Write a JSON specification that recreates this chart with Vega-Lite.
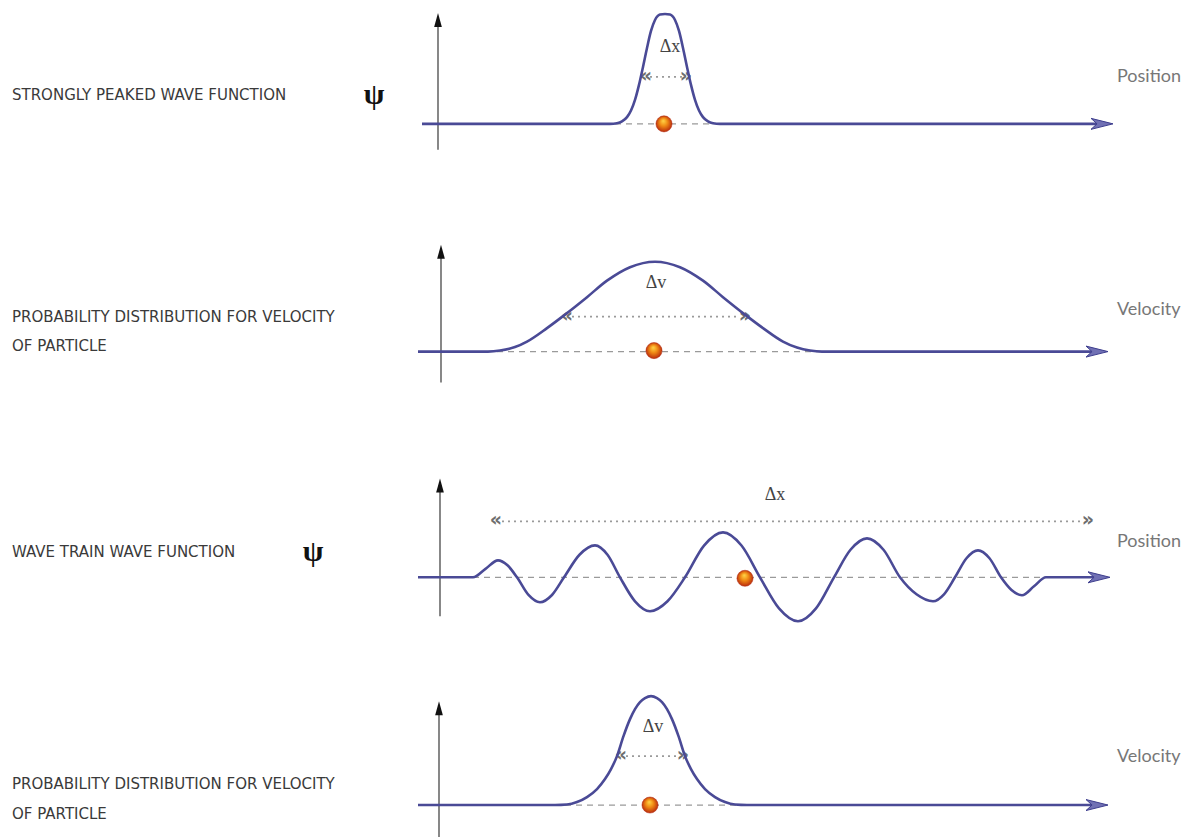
{
  "$schema": "https://vega.github.io/schema/vega-lite/v6.json",
  "width": 1192,
  "height": 838,
  "autosize": {"type": "fit", "contains": "padding"},
  "padding": 0,
  "background": "white",
  "config": {"view": {"stroke": null}},
  "datasets": {
    "curves": [
      {"panel": 1, "x": 422, "y": 124}, {"panel": 1, "x": 600, "y": 124}, {"panel": 1, "x": 610, "y": 124},
      {"panel": 1, "x": 617, "y": 123.3}, {"panel": 1, "x": 622, "y": 121.5}, {"panel": 1, "x": 627, "y": 117.3},
      {"panel": 1, "x": 631, "y": 110.7}, {"panel": 1, "x": 635, "y": 100}, {"panel": 1, "x": 639, "y": 85},
      {"panel": 1, "x": 643, "y": 67}, {"panel": 1, "x": 647, "y": 48}, {"panel": 1, "x": 651, "y": 31},
      {"panel": 1, "x": 655, "y": 20}, {"panel": 1, "x": 660, "y": 14.6}, {"panel": 1, "x": 665, "y": 14},
      {"panel": 1, "x": 670, "y": 14.6}, {"panel": 1, "x": 675, "y": 20}, {"panel": 1, "x": 679, "y": 31},
      {"panel": 1, "x": 683, "y": 48}, {"panel": 1, "x": 687, "y": 67}, {"panel": 1, "x": 691, "y": 85},
      {"panel": 1, "x": 695, "y": 100}, {"panel": 1, "x": 699, "y": 110.7}, {"panel": 1, "x": 703, "y": 117.3},
      {"panel": 1, "x": 708, "y": 121.5}, {"panel": 1, "x": 713, "y": 123.3}, {"panel": 1, "x": 720, "y": 124},
      {"panel": 1, "x": 730, "y": 124}, {"panel": 1, "x": 1100, "y": 124},

      {"panel": 2, "x": 418, "y": 352}, {"panel": 2, "x": 488, "y": 352}, {"panel": 2, "x": 500, "y": 351},
      {"panel": 2, "x": 515, "y": 347.5}, {"panel": 2, "x": 527, "y": 342}, {"panel": 2, "x": 547, "y": 328.5},
      {"panel": 2, "x": 565, "y": 315}, {"panel": 2, "x": 587, "y": 297.5}, {"panel": 2, "x": 607, "y": 281},
      {"panel": 2, "x": 630, "y": 267.5}, {"panel": 2, "x": 655, "y": 262}, {"panel": 2, "x": 680, "y": 267.5},
      {"panel": 2, "x": 703, "y": 281}, {"panel": 2, "x": 723, "y": 297.5}, {"panel": 2, "x": 745, "y": 315},
      {"panel": 2, "x": 763, "y": 328.5}, {"panel": 2, "x": 783, "y": 342}, {"panel": 2, "x": 797, "y": 348},
      {"panel": 2, "x": 810, "y": 351}, {"panel": 2, "x": 822, "y": 352}, {"panel": 2, "x": 1096, "y": 352},

      {"panel": 3, "x": 418, "y": 578}, {"panel": 3, "x": 473, "y": 578}, {"panel": 3, "x": 485.5, "y": 569.5},
      {"panel": 3, "x": 498, "y": 561}, {"panel": 3, "x": 507.5, "y": 566}, {"panel": 3, "x": 517, "y": 578},
      {"panel": 3, "x": 528.5, "y": 595.7}, {"panel": 3, "x": 540, "y": 603}, {"panel": 3, "x": 552, "y": 595.7},
      {"panel": 3, "x": 564, "y": 578}, {"panel": 3, "x": 579.5, "y": 555.4}, {"panel": 3, "x": 595, "y": 546},
      {"panel": 3, "x": 607.5, "y": 555.4}, {"panel": 3, "x": 620, "y": 578}, {"panel": 3, "x": 635, "y": 602},
      {"panel": 3, "x": 650, "y": 612}, {"panel": 3, "x": 667.5, "y": 602}, {"panel": 3, "x": 685, "y": 578},
      {"panel": 3, "x": 704, "y": 546.2}, {"panel": 3, "x": 723, "y": 533}, {"panel": 3, "x": 741.5, "y": 546.2},
      {"panel": 3, "x": 760, "y": 578}, {"panel": 3, "x": 779, "y": 609.1}, {"panel": 3, "x": 798, "y": 622},
      {"panel": 3, "x": 816, "y": 609.1}, {"panel": 3, "x": 834, "y": 578}, {"panel": 3, "x": 850.5, "y": 550.4},
      {"panel": 3, "x": 867, "y": 539}, {"panel": 3, "x": 883.5, "y": 550.4}, {"panel": 3, "x": 900, "y": 578},
      {"panel": 3, "x": 916.5, "y": 595}, {"panel": 3, "x": 933, "y": 602}, {"panel": 3, "x": 944, "y": 595},
      {"panel": 3, "x": 955, "y": 578}, {"panel": 3, "x": 966.5, "y": 558.9}, {"panel": 3, "x": 978, "y": 551},
      {"panel": 3, "x": 989.5, "y": 558.9}, {"panel": 3, "x": 1001, "y": 578}, {"panel": 3, "x": 1011.5, "y": 590.7},
      {"panel": 3, "x": 1022, "y": 596}, {"panel": 3, "x": 1034, "y": 587}, {"panel": 3, "x": 1046, "y": 578},
      {"panel": 3, "x": 1098, "y": 578},

      {"panel": 4, "x": 418, "y": 806}, {"panel": 4, "x": 545, "y": 806}, {"panel": 4, "x": 555, "y": 806},
      {"panel": 4, "x": 567, "y": 805.5}, {"panel": 4, "x": 577, "y": 803}, {"panel": 4, "x": 587, "y": 798},
      {"panel": 4, "x": 597, "y": 790}, {"panel": 4, "x": 605, "y": 780}, {"panel": 4, "x": 611, "y": 770},
      {"panel": 4, "x": 617, "y": 757}, {"panel": 4, "x": 623.5, "y": 737}, {"panel": 4, "x": 630, "y": 720},
      {"panel": 4, "x": 635, "y": 710}, {"panel": 4, "x": 640, "y": 703}, {"panel": 4, "x": 645, "y": 699},
      {"panel": 4, "x": 651, "y": 697}, {"panel": 4, "x": 657, "y": 699}, {"panel": 4, "x": 662, "y": 703},
      {"panel": 4, "x": 667, "y": 710}, {"panel": 4, "x": 672, "y": 720}, {"panel": 4, "x": 678.5, "y": 737},
      {"panel": 4, "x": 685, "y": 757}, {"panel": 4, "x": 691, "y": 770}, {"panel": 4, "x": 697, "y": 780},
      {"panel": 4, "x": 705, "y": 790}, {"panel": 4, "x": 715, "y": 798}, {"panel": 4, "x": 725, "y": 803},
      {"panel": 4, "x": 735, "y": 805.5}, {"panel": 4, "x": 747, "y": 806}, {"panel": 4, "x": 760, "y": 806},
      {"panel": 4, "x": 1096, "y": 806}
    ],
    "dashes": [
      {"panel": 1, "x": 615, "y": 124}, {"panel": 1, "x": 714, "y": 124},
      {"panel": 2, "x": 497, "y": 352}, {"panel": 2, "x": 822, "y": 352},
      {"panel": 3, "x": 473, "y": 578}, {"panel": 3, "x": 1047, "y": 578},
      {"panel": 4, "x": 565, "y": 806}, {"panel": 4, "x": 737, "y": 806}
    ],
    "spans": [
      {"panel": 1, "x": 650, "y": 77}, {"panel": 1, "x": 682, "y": 77},
      {"panel": 2, "x": 572, "y": 317}, {"panel": 2, "x": 740, "y": 317},
      {"panel": 3, "x": 502, "y": 522}, {"panel": 3, "x": 1082, "y": 522},
      {"panel": 4, "x": 626, "y": 757}, {"panel": 4, "x": 677, "y": 757}
    ],
    "chevrons": [
      {"x": 646, "y": 77, "t": "«"}, {"x": 686, "y": 77, "t": "»"},
      {"x": 567, "y": 317, "t": "«"}, {"x": 745, "y": 317, "t": "»"},
      {"x": 496, "y": 522, "t": "«"}, {"x": 1088, "y": 522, "t": "»"},
      {"x": 621, "y": 757, "t": "«"}, {"x": 683, "y": 757, "t": "»"}
    ],
    "axes": [
      {"x": 438, "y": 150, "y2": 24},
      {"x": 441, "y": 383, "y2": 255},
      {"x": 440, "y": 617, "y2": 490},
      {"x": 439, "y": 838, "y2": 712}
    ],
    "axisTips": [
      {"x": 438, "y": 20},
      {"x": 441, "y": 252},
      {"x": 440, "y": 486},
      {"x": 439, "y": 709}
    ],
    "arrowTips": [
      {"x": 1102, "y": 124},
      {"x": 1097, "y": 352},
      {"x": 1099, "y": 578},
      {"x": 1097, "y": 806}
    ],
    "particles": [
      {"x": 664, "y": 124},
      {"x": 654, "y": 351},
      {"x": 745, "y": 579},
      {"x": 650, "y": 806}
    ],
    "deltas": [
      {"x": 670, "y": 47, "t": "Δx"},
      {"x": 656, "y": 283, "t": "Δv"},
      {"x": 775, "y": 496, "t": "Δx"},
      {"x": 653, "y": 728, "t": "Δv"}
    ],
    "quantities": [
      {"x": 1117, "y": 77, "t": "Position"},
      {"x": 1117, "y": 310, "t": "Velocity"},
      {"x": 1117, "y": 543, "t": "Position"},
      {"x": 1117, "y": 758, "t": "Velocity"}
    ],
    "captions": [
      {"x": 12, "y": 95, "t": "STRONGLY PEAKED WAVE FUNCTION"},
      {"x": 12, "y": 317, "t": "PROBABILITY DISTRIBUTION FOR VELOCITY"},
      {"x": 12, "y": 346, "t": "OF PARTICLE"},
      {"x": 12, "y": 553, "t": "WAVE TRAIN WAVE FUNCTION"},
      {"x": 12, "y": 785, "t": "PROBABILITY DISTRIBUTION FOR VELOCITY"},
      {"x": 12, "y": 815, "t": "OF PARTICLE"}
    ],
    "psis": [
      {"x": 374, "y": 95, "t": "ψ"},
      {"x": 313, "y": 553, "t": "ψ"}
    ]
  },
  "encoding": {
    "x": {"field": "x", "type": "quantitative", "scale": {"domain": [0, 1192], "nice": false, "zero": false}, "axis": null},
    "y": {"field": "y", "type": "quantitative", "scale": {"domain": [0, 838], "nice": false, "zero": false, "reverse": true}, "axis": null}
  },
  "layer": [
    {
      "data": {"name": "dashes"},
      "mark": {"type": "line", "color": "#9a9a9a", "strokeWidth": 1.3, "strokeDash": [6, 5]},
      "encoding": {"detail": {"field": "panel", "type": "nominal"}}
    },
    {
      "data": {"name": "spans"},
      "mark": {"type": "line", "color": "#9a9a9a", "strokeWidth": 1.7, "strokeDash": [2, 4]},
      "encoding": {"detail": {"field": "panel", "type": "nominal"}}
    },
    {
      "data": {"name": "chevrons"},
      "mark": {"type": "text", "font": "DejaVu Sans", "fontSize": 19, "fontWeight": "bold", "color": "#6e6e6e", "align": "center", "baseline": "middle", "dy": -1},
      "encoding": {"text": {"field": "t"}}
    },
    {
      "data": {"name": "axes"},
      "mark": {"type": "rule", "color": "#555555", "strokeWidth": 1.4},
      "encoding": {"y2": {"field": "y2"}}
    },
    {
      "data": {"name": "axisTips"},
      "mark": {"type": "point", "shape": "M0,-1L0.55,1L-0.55,1Z", "size": 196, "filled": true, "color": "#111111", "opacity": 1}
    },
    {
      "data": {"name": "curves"},
      "mark": {"type": "line", "interpolate": "monotone", "color": "#4a4a96", "strokeWidth": 2.6},
      "encoding": {"detail": {"field": "panel", "type": "nominal"}}
    },
    {
      "data": {"name": "arrowTips"},
      "mark": {"type": "point", "shape": "M1,0L-1,-0.5L-0.45,0L-1,0.5Z", "size": 484, "filled": true, "fill": "#7070b4", "stroke": "#3e3e8e", "strokeWidth": 1, "opacity": 1}
    },
    {
      "data": {"name": "particles"},
      "mark": {
        "type": "point", "shape": "circle", "size": 260, "filled": true, "opacity": 1,
        "fill": {"gradient": "radial", "x1": 0.45, "y1": 0.3, "r1": 0, "x2": 0.5, "y2": 0.5, "r2": 0.55,
          "stops": [{"offset": 0, "color": "#ffd84a"}, {"offset": 0.45, "color": "#f08a14"}, {"offset": 1, "color": "#b3200c"}]},
        "stroke": "#b02a10", "strokeWidth": 0.5
      }
    },
    {
      "data": {"name": "deltas"},
      "mark": {"type": "text", "font": "Liberation Serif", "fontSize": 18, "color": "#444444", "align": "center", "baseline": "middle"},
      "encoding": {"text": {"field": "t"}}
    },
    {
      "data": {"name": "quantities"},
      "mark": {"type": "text", "font": "Lato", "fontSize": 18, "color": "#777777", "align": "left", "baseline": "middle"},
      "encoding": {"text": {"field": "t"}}
    },
    {
      "data": {"name": "captions"},
      "mark": {"type": "text", "font": "DejaVu Sans", "fontSize": 15, "fontWeight": "normal", "color": "#3a3a3a", "align": "left", "baseline": "middle"},
      "encoding": {"text": {"field": "t"}}
    },
    {
      "data": {"name": "psis"},
      "mark": {"type": "text", "font": "Liberation Serif", "fontSize": 30, "fontWeight": "bold", "color": "#111111", "align": "center", "baseline": "middle"},
      "encoding": {"text": {"field": "t"}}
    }
  ]
}
